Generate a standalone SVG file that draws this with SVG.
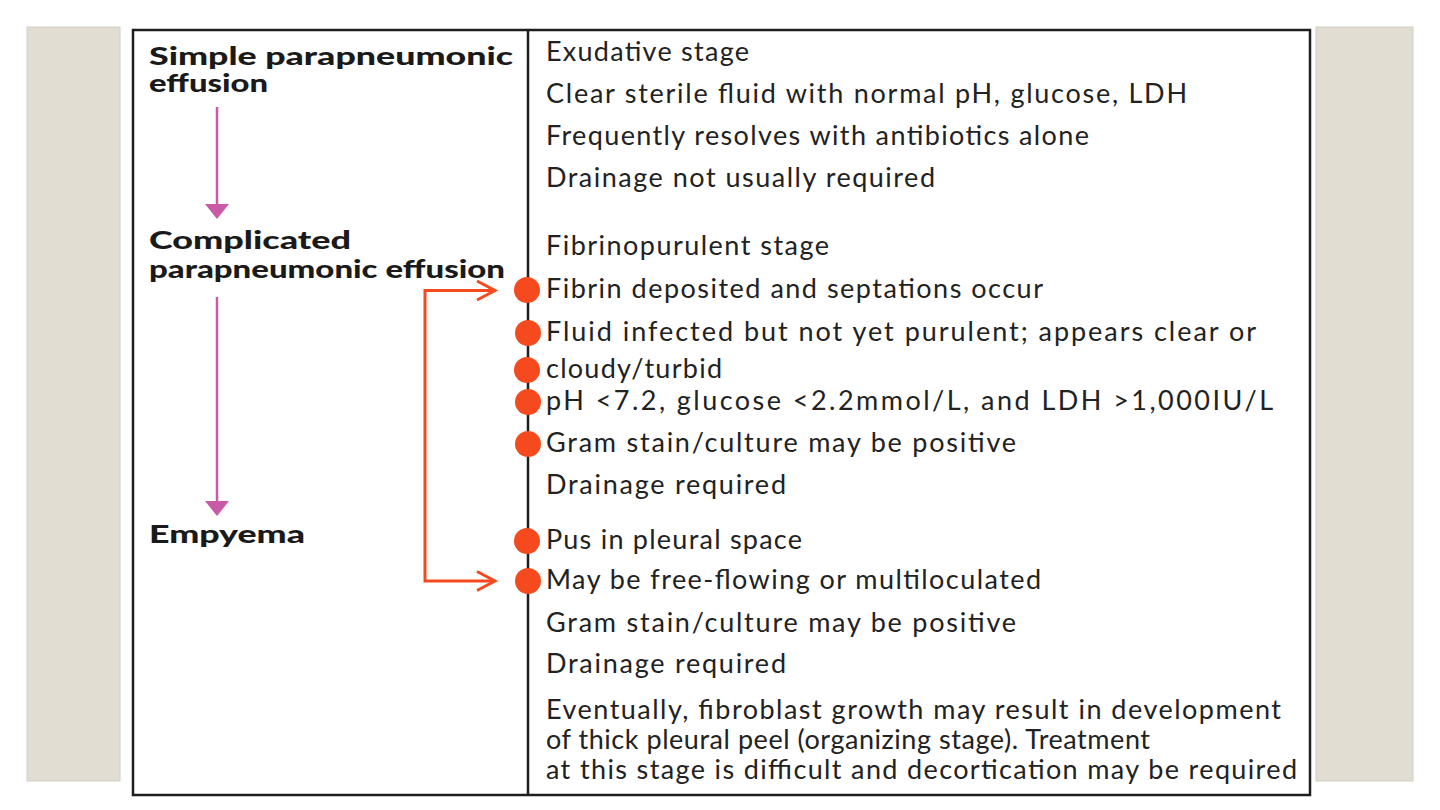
<svg xmlns="http://www.w3.org/2000/svg" width="1440" height="810" viewBox="0 0 1440 810">
<style>
.panel{fill:#e2ddd3;stroke:#d3cec4;stroke-width:1}
.box{fill:#ffffff;stroke:#1e1e1e;stroke-width:2.5}
.div{stroke:#1e1e1e;stroke-width:2.5}
.hd{font-family:Lato,"Open Sans","DejaVu Sans",sans-serif;font-weight:900;font-size:25px;fill:#1a1a1a}
.tx{font-family:Lato,"Open Sans","DejaVu Sans",sans-serif;font-weight:400;font-size:27px;fill:#222222}
.pink{stroke:#c85aa7;stroke-width:2.5;fill:none}
.pinkh{fill:#c85aa7}
.or{stroke:#f44a1e;stroke-width:3;fill:none}
.dot{fill:#f44a1e}
</style>
<rect width="1440" height="810" fill="#ffffff"/>
<rect class="panel" x="27" y="27" width="93" height="754"/>
<rect class="panel" x="1316" y="27" width="97" height="754"/>
<rect class="box" x="133" y="30" width="1177" height="765"/>
<line class="div" x1="528" y1="30" x2="528" y2="795"/>

<g id="connectors">
  <line class="pink" x1="217" y1="107" x2="217" y2="205"/>
  <polygon class="pinkh" points="205,204 229,204 217,219"/>
  <line class="pink" x1="217" y1="297" x2="217" y2="502"/>
  <polygon class="pinkh" points="205,501 229,501 217,516"/>
  <path class="or" d="M494,290.5 H425 V581 H494"/>
  <path class="or" d="M477,281 L495,290.5 L477,300"/>
  <path class="or" d="M477,571.5 L495,581 L477,590.5"/>
</g>

<g id="node-simple">
  <text class="hd" x="149" y="65" textLength="364" lengthAdjust="spacingAndGlyphs">Simple parapneumonic</text>
  <text class="hd" x="149" y="92" textLength="119" lengthAdjust="spacingAndGlyphs">effusion</text>
</g>
<g id="node-complicated">
  <text class="hd" x="149" y="249" textLength="202" lengthAdjust="spacingAndGlyphs">Complicated</text>
  <text class="hd" x="149" y="278" textLength="356" lengthAdjust="spacingAndGlyphs">parapneumonic effusion</text>
</g>
<g id="node-empyema">
  <text class="hd" x="149" y="543" textLength="156" lengthAdjust="spacingAndGlyphs">Empyema</text>
</g>

<g id="bullets">
  <circle class="dot" cx="527" cy="290" r="13"/>
  <circle class="dot" cx="528" cy="333" r="13"/>
  <circle class="dot" cx="527" cy="370" r="13"/>
  <circle class="dot" cx="528" cy="402" r="13"/>
  <circle class="dot" cx="528" cy="444" r="13"/>
  <circle class="dot" cx="527" cy="541" r="13"/>
  <circle class="dot" cx="528" cy="581" r="13"/>
</g>

<g id="desc-simple">
  <text class="tx" x="546" y="61" textLength="203">Exudative stage</text>
  <text class="tx" x="546" y="103" textLength="641">Clear sterile fluid with normal pH, glucose, LDH</text>
  <text class="tx" x="546" y="145" textLength="543">Frequently resolves with antibiotics alone</text>
  <text class="tx" x="546" y="187" textLength="389">Drainage not usually required</text>
</g>
<g id="desc-complicated">
  <text class="tx" x="546" y="255" textLength="283">Fibrinopurulent stage</text>
  <text class="tx" x="546" y="298" textLength="497">Fibrin deposited and septations occur</text>
  <text class="tx" x="546" y="341" textLength="710">Fluid infected but not yet purulent; appears clear or</text>
  <text class="tx" x="546" y="378" textLength="176">cloudy/turbid</text>
  <text class="tx" x="546" y="410" textLength="727">pH &lt;7.2, glucose &lt;2.2mmol/L, and LDH &gt;1,000IU/L</text>
  <text class="tx" x="546" y="452" textLength="470">Gram stain/culture may be positive</text>
  <text class="tx" x="546" y="494" textLength="240">Drainage required</text>
</g>
<g id="desc-empyema">
  <text class="tx" x="546" y="549" textLength="256">Pus in pleural space</text>
  <text class="tx" x="546" y="589" textLength="495">May be free-flowing or multiloculated</text>
  <text class="tx" x="546" y="632" textLength="470">Gram stain/culture may be positive</text>
  <text class="tx" x="546" y="673" textLength="240">Drainage required</text>
  <text class="tx" x="546" y="719" textLength="735">Eventually, fibroblast growth may result in development</text>
  <text class="tx" x="546" y="749" textLength="604">of thick pleural peel (organizing stage). Treatment</text>
  <text class="tx" x="546" y="779" textLength="751">at this stage is difficult and decortication may be required</text>
</g>
</svg>
